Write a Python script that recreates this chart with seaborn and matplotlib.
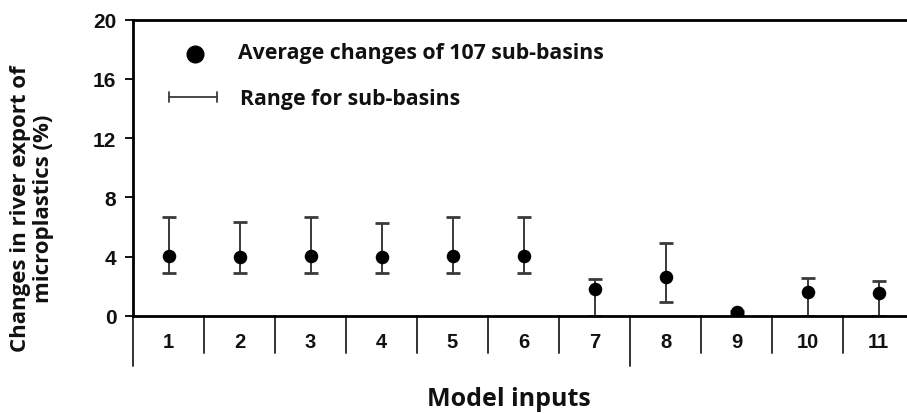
import numpy as np
import pandas as pd
import matplotlib
matplotlib.use("Agg")
import matplotlib.pyplot as plt
import seaborn as sns

# values
INPUTS = ["1", "2", "3", "4", "5", "6", "7", "8", "9", "10", "11"]
MEAN = [4.05, 3.97, 4.05, 3.97, 4.05, 4.05, 1.78, 2.64, 0.23, 1.62, 1.53]
LOW = [2.9, 2.9, 2.9, 2.9, 2.9, 2.9, 0.0, 0.95, 0.1, 0.0, 0.0]
HIGH = [6.65, 6.3, 6.65, 6.25, 6.65, 6.65, 2.48, 4.9, 0.35, 2.55, 2.32]
Y_TICKS = [0, 4, 8, 12, 16, 20]
LONG_SEPARATORS = [0.5, 7.5]   # group dividers drawn further down

sns.set_theme(style="white")
plt.rcParams["font.family"] = ["Liberation Sans", "DejaVu Sans"]
LABEL_FONT = ["Open Sans", "DejaVu Sans"]

df = pd.DataFrame({"pos": np.arange(1, len(INPUTS) + 1), "mean": MEAN,
                   "low": LOW, "high": HIGH})

W, H = 907, 414
fig = plt.figure(figsize=(W / 100, H / 100), dpi=100)
# axes runs past the right edge of the picture, like the reference
x0, x1, y0, y1 = 133, 914, 316.7, 20.7
ax = fig.add_axes([x0 / W, (H - y0) / H, (x1 - x0) / W, (y0 - y1) / H])

ax.errorbar(df["pos"], df["mean"],
            yerr=[df["mean"] - df["low"], df["high"] - df["mean"]],
            fmt="none", ecolor="#3a3a3a", elinewidth=1.4, capsize=5, capthick=2, zorder=2)
sns.scatterplot(data=df, x="pos", y="mean", ax=ax, color="black", s=95,
                edgecolor="black", linewidth=0, zorder=3, legend=False)

ax.set_xlim(0.5, len(INPUTS) + 0.5)
ax.set_ylim(0, 20)
ax.set_yticks(Y_TICKS)
ax.set_yticklabels([str(t) for t in Y_TICKS], fontsize=15, fontweight="bold")
ax.set_xticks(df["pos"])
ax.set_xticklabels(INPUTS, fontsize=14.5, fontweight="bold")
ax.tick_params(axis="x", length=0, pad=12)
ax.tick_params(axis="y", direction="out", length=6, width=1.3, pad=6, left=True, color="black")
for t in ax.get_xticklabels() + ax.get_yticklabels():
    t.set_color("#111111")

for side in ["left", "top", "bottom"]:
    ax.spines[side].set_color("black")
    ax.spines[side].set_linewidth(2)
ax.spines["right"].set_visible(False)
ax.grid(False)
ax.set_xlabel("")
ax.set_ylabel("")

# category dividers below the x axis
px = 296 / 20  # pixels per unit on y
for s in np.arange(0.5, len(INPUTS) + 0.5, 1.0):
    bottom = -(366.7 - y0) / px if s in LONG_SEPARATORS else -(354 - y0) / px
    ax.plot([s, s], [0, bottom], color="#333333", lw=1.4, clip_on=False, zorder=1)

fig.text(509 / W, (H - 406.5) / H, "Model inputs", ha="center", va="baseline",
         fontsize=18, fontweight="bold", family=LABEL_FONT, color="#111111")
fig.text(32 / W, (H - 209) / H, "Changes in river export of\nmicroplastics (%)",
         rotation=90, ha="center", va="center", multialignment="center",
         fontsize=16, fontweight="bold", family=LABEL_FONT, color="#111111",
         linespacing=1.08)

# hand-drawn key, as in the reference
tr = ax.transAxes
ax.plot([0.0794], [0.884], "o", color="black", ms=12, transform=tr, clip_on=False)
ax.plot([0.046, 0.1076], [0.739, 0.739], color="#3a3a3a", lw=1.3, transform=tr)
for cx in (0.046, 0.1076):
    ax.plot([cx, cx], [0.722, 0.756], color="#3a3a3a", lw=1.3, transform=tr)
ax.text(0.1344, 0.89, "Average changes of 107 sub-basins", transform=tr,
        va="center", ha="left", fontsize=15.3, fontweight="bold", family=LABEL_FONT,
        color="#111111")
ax.text(0.137, 0.735, "Range for sub-basins", transform=tr,
        va="center", ha="left", fontsize=15.3, fontweight="bold", family=LABEL_FONT,
        color="#111111")

fig.savefig("out.png", dpi=100)
